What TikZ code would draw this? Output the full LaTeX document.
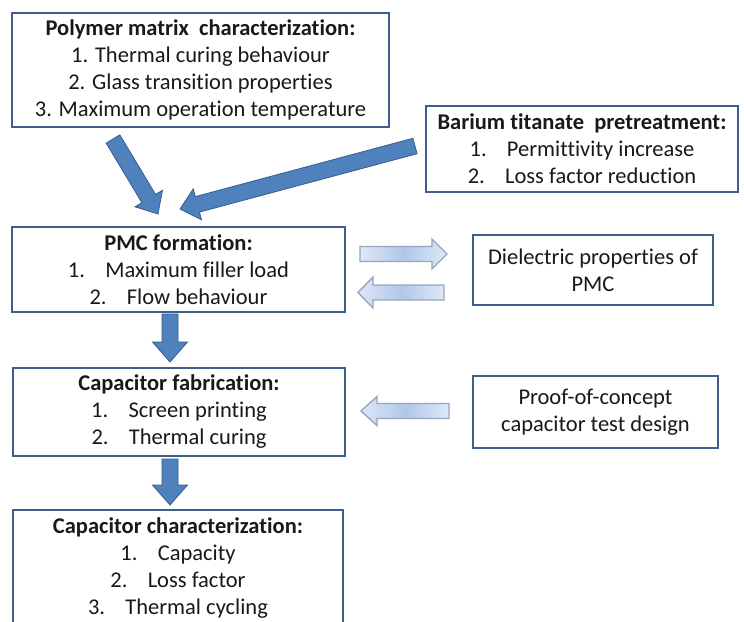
\documentclass[tikz,border=0pt]{standalone}
\usepackage{fontspec}
\setmainfont[Ligatures=NoCommon]{Carlito}
\usetikzlibrary{calc}
\definecolor{boxc}{RGB}{62,94,140}
\definecolor{arrowfill}{RGB}{79,129,189}
\definecolor{arrowline}{RGB}{56,93,138}
\definecolor{hl}{RGB}{222,232,246}
\definecolor{hm}{RGB}{176,199,234}
\definecolor{hline}{RGB}{150,166,192}
\definecolor{txt}{RGB}{25,25,25}
\newcommand\blockarr[6]{%
  \coordinate (bh) at ($(#2)!#5!(#1)$);
  \draw[#6] ($(#1)!#3!90:(#2)$) -- ($(bh)!#3!-90:(#1)$) -- ($(bh)!#4!-90:(#1)$)
    -- (#2) -- ($(bh)!#4!90:(#1)$) -- ($(bh)!#3!90:(#1)$) -- ($(#1)!#3!-90:(#2)$) -- cycle;
}
\tikzset{
  box/.style={draw=boxc, line width=1.8pt, fill=white, inner sep=0pt, align=center,
    font=\fontsize{22.5}{27}\selectfont, text=txt},
  bigarrow/.style={fill=arrowfill, draw=arrowline, line width=0.8pt, line join=miter},
  hollowarrow/.style={left color=hl, right color=hl, middle color=hm, draw=hline, line width=1.4pt, line join=miter},
}
\newcommand\gap{\hspace{0.9em}}
\begin{document}
\begin{tikzpicture}[x=1pt,y=-1pt]
\useasboundingbox[fill=white] (0,0) rectangle (744,621);
\clip (0,0) rectangle (744,621);

\node[box, minimum width=377pt, minimum height=114pt] (poly) at (200.5,70)
  {\textbf{Polymer matrix\ \ characterization:}\\1. Thermal curing behaviour\\2. Glass transition properties\\3. Maximum operation temperature};
\node[box, minimum width=312pt, minimum height=86pt] (bat) at (582,149)
  {\textbf{Barium titanate\ \ pretreatment:}\\1.\gap Permittivity increase\\2.\gap Loss factor reduction};
\node[box, minimum width=333pt, minimum height=85pt] (pmc) at (178.5,269.5)
  {\textbf{PMC formation:}\\1.\gap Maximum filler load\\2.\gap Flow behaviour};
\node[box, minimum width=240pt, minimum height=70pt] (diel) at (593,270)
  {Dielectric properties of\\PMC};
\node[box, minimum width=332pt, minimum height=88pt] (fab) at (179,412)
  {\textbf{Capacitor fabrication:}\\1.\gap Screen printing\\2.\gap Thermal curing};
\node[box, minimum width=245pt, minimum height=72pt] (proof) at (595.5,412)
  {Proof-of-concept\\capacitor test design};
\node[box, minimum width=330pt, minimum height=116pt] (char) at (178,568)
  {\textbf{Capacitor characterization:}\\1.\gap Capacity\\2.\gap Loss factor\\3.\gap Thermal cycling};

% big arrows
\coordinate (a1s) at (113,139);  \coordinate (a1e) at (158,214);
\coordinate (a2s) at (415,146);  \coordinate (a2e) at (180,209);
\coordinate (d1s) at (170,314);  \coordinate (d1e) at (170,362);
\coordinate (d2s) at (170,459);  \coordinate (d2e) at (170,505);
\blockarr{a1s}{a1e}{8pt}{16pt}{18pt}{bigarrow}
\blockarr{a2s}{a2e}{8pt}{16pt}{18pt}{bigarrow}
\blockarr{d1s}{d1e}{8pt}{17.5pt}{20pt}{bigarrow}
\blockarr{d2s}{d2e}{8pt}{17.5pt}{20pt}{bigarrow}

% hollow arrows
\coordinate (h1s) at (360,254);  \coordinate (h1e) at (447,254);
\coordinate (h2s) at (444,292.5);\coordinate (h2e) at (358,292.5);
\coordinate (h3s) at (449,411);  \coordinate (h3e) at (361,411);
\blockarr{h1s}{h1e}{7.5pt}{15pt}{15pt}{hollowarrow}
\blockarr{h2s}{h2e}{7.5pt}{15.5pt}{15pt}{hollowarrow}
\blockarr{h3s}{h3e}{7.5pt}{14.5pt}{16pt}{hollowarrow}
\end{tikzpicture}
\end{document}
